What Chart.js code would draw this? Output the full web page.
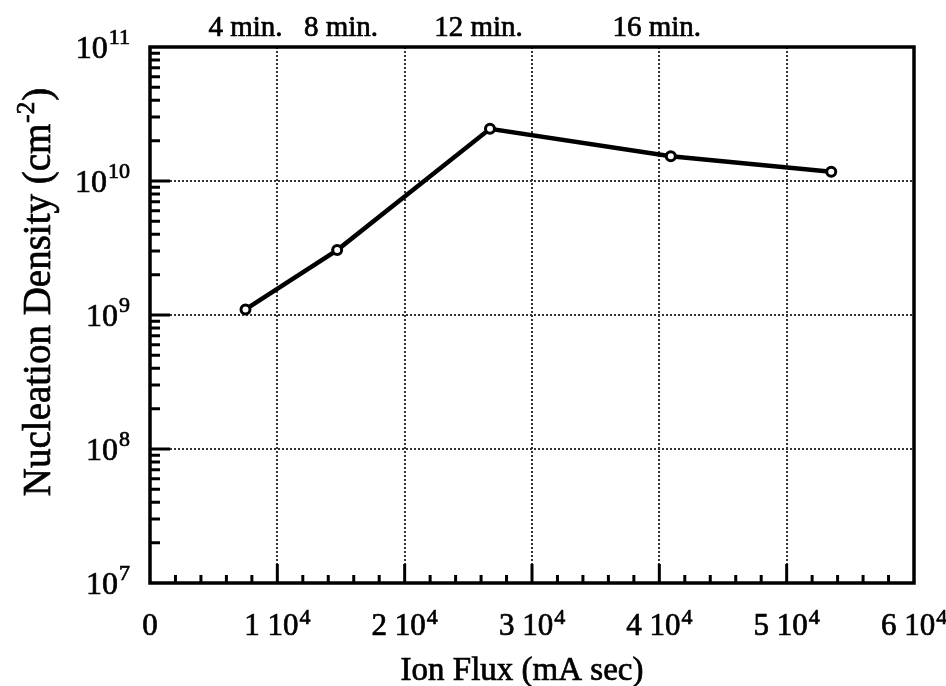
<!DOCTYPE html>
<html>
<head>
<meta charset="utf-8">
<script src="https://cdn.jsdelivr.net/npm/chart.js@4.4.0/dist/chart.umd.min.js"></script>
<style>
  body { margin: 0; background: #fff; }
  canvas { display: block; }
</style>
</head>
<body>
<canvas id="myChart" width="946" height="686"></canvas>
<script>
// values
const ionFlux = [7500, 14700, 26700, 40900, 53500];
const nucleationDensity = [1.1e9, 3.05e9, 2.45e10, 1.53e10, 1.17e10];

// deposition time labels along the top
const timeLabels = ["4 min.", "8 min.", "12 min.", "16 min."];
const timeLabelFlux = [7500, 15000, 25800, 39800];

const xTicks = [0, 10000, 20000, 30000, 40000, 50000, 60000];
const xTickLabels = ["0", "1 10^4", "2 10^4", "3 10^4", "4 10^4", "5 10^4", "6 10^4"];
const yTicks = [1e7, 1e8, 1e9, 1e10, 1e11];
const yTickLabels = ["10^7", "10^8", "10^9", "10^10", "10^11"];

const serif = "'Liberation Serif', 'Times New Roman', serif";

// minor tick marks (axis decoration only)
const xMinorTicks = [];
for (let v = 0; v < 60000; v += 2000) if (v % 10000 !== 0) xMinorTicks.push(v);
const yMinorTicks = [];
yTicks.slice(0, -1).forEach(d => { for (let m = 2; m <= 9; m++) yMinorTicks.push(d * m); });

function splitSup(label) {
  const i = label.indexOf("^");
  return i < 0 ? [label, ""] : [label.slice(0, i), label.slice(i + 1)];
}

// scanned original has heavy type, so fill + thin stroke
function ink(ctx, text, x, y) {
  ctx.fillText(text, x, y);
  ctx.strokeText(text, x, y);
}

function drawSupText(ctx, label, x, y, align, size, supSize, raise) {
  const [base, sup] = splitSup(label);
  ctx.font = size + "px " + serif;
  const bw = ctx.measureText(base).width;
  ctx.font = supSize + "px " + serif;
  const sw = sup ? ctx.measureText(sup).width + 1 : 0;
  let left = x;
  if (align === "center") left = x - (bw + sw) / 2;
  if (align === "right") left = x - (bw + sw);
  ctx.textAlign = "left";
  ctx.textBaseline = "alphabetic";
  ctx.font = size + "px " + serif;
  ink(ctx, base, left, y);
  if (sup) {
    ctx.font = supSize + "px " + serif;
    ink(ctx, sup, left + bw + 1, y - raise);
  }
}

const axisDecor = {
  id: "axisDecor",
  afterDraw(chart) {
    const {ctx, chartArea: a, scales: {x, y}} = chart;
    ctx.save();
    ctx.fillStyle = "#000";
    ctx.strokeStyle = "#000";

    // frame
    ctx.lineWidth = 3.5;
    ctx.strokeRect(a.left, a.top, a.right - a.left, a.bottom - a.top);

    // inward tick marks
    ctx.lineWidth = 3;
    ctx.beginPath();
    xMinorTicks.forEach(v => {
      const px = x.getPixelForValue(v);
      ctx.moveTo(px, a.bottom); ctx.lineTo(px, a.bottom - 8);
    });
    xTicks.slice(1, -1).forEach(v => {
      const px = x.getPixelForValue(v);
      ctx.moveTo(px, a.bottom); ctx.lineTo(px, a.bottom - 19);
    });
    yMinorTicks.forEach(v => {
      const py = y.getPixelForValue(v);
      ctx.moveTo(a.left, py); ctx.lineTo(a.left + 10, py);
    });
    yTicks.slice(1, -1).forEach(v => {
      const py = y.getPixelForValue(v);
      ctx.moveTo(a.left, py); ctx.lineTo(a.left + 20, py);
    });
    ctx.stroke();

    ctx.lineWidth = 0.7;

    // tick labels
    xTicks.forEach((v, i) => drawSupText(ctx, xTickLabels[i], x.getPixelForValue(v), a.bottom + 52, "center", 31, 22, 11));
    yTicks.forEach((v, i) => drawSupText(ctx, yTickLabels[i], a.left - 20, y.getPixelForValue(v) + 11, "right", 32, 22, 14));

    // time labels on top
    ctx.font = "29px " + serif;
    ctx.textAlign = "center";
    ctx.textBaseline = "alphabetic";
    timeLabels.forEach((t, i) => ink(ctx, t, x.getPixelForValue(timeLabelFlux[i]), 36));

    // x title
    ctx.font = "33px " + serif;
    ink(ctx, "Ion Flux (mA sec)", (a.left + a.right) / 2 - 10, 680);

    // y title, rotated
    ctx.translate(50, 292);
    ctx.rotate(-Math.PI / 2);
    const base = "Nucleation Density (cm", sup = "-2", tail = ")";
    ctx.font = "39px " + serif;
    const bw = ctx.measureText(base).width;
    const tw = ctx.measureText(tail).width;
    ctx.font = "25px " + serif;
    const sw = ctx.measureText(sup).width + 2;
    const left = -(bw + sw + tw) / 2;
    ctx.textAlign = "left";
    ctx.font = "39px " + serif;
    ink(ctx, base, left, 0);
    ctx.font = "25px " + serif;
    ink(ctx, sup, left + bw + 1, -16);
    ctx.font = "39px " + serif;
    ink(ctx, tail, left + bw + sw, 0);
    ctx.restore();
  }
};

new Chart(document.getElementById("myChart").getContext("2d"), {
  type: "line",
  data: {
    datasets: [{
      label: "Nucleation Density",
      data: ionFlux.map((v, i) => ({x: v, y: nucleationDensity[i]})),
      borderColor: "#000",
      borderWidth: 4.5,
      tension: 0,
      pointRadius: 4.5,
      pointBorderWidth: 3,
      pointBackgroundColor: "#fff",
      pointBorderColor: "#000"
    }]
  },
  options: {
    responsive: false,
    animation: false,
    layout: {padding: {left: 150, right: 32, top: 47, bottom: 103}},
    plugins: {legend: {display: false}, tooltip: {enabled: false}},
    scales: {
      x: {
        type: "linear",
        min: 0,
        max: 60000,
        afterBuildTicks: s => { s.ticks = xTicks.map(v => ({value: v})); },
        ticks: {display: false},
        grid: {
          drawTicks: false,
          lineWidth: 2,
          color: c => (c.index === 0 || c.index === xTicks.length - 1) ? "rgba(0,0,0,0)" : "#333"
        },
        border: {display: false, dash: [2, 2]}
      },
      y: {
        type: "logarithmic",
        min: 1e7,
        max: 1e11,
        afterBuildTicks: s => { s.ticks = yTicks.map(v => ({value: v})); },
        ticks: {display: false},
        grid: {
          drawTicks: false,
          lineWidth: 2,
          color: c => (c.index === 0 || c.index === yTicks.length - 1) ? "rgba(0,0,0,0)" : "#333"
        },
        border: {display: false, dash: [2, 2]}
      }
    }
  },
  plugins: [axisDecor]
});
</script>
</body>
</html>
